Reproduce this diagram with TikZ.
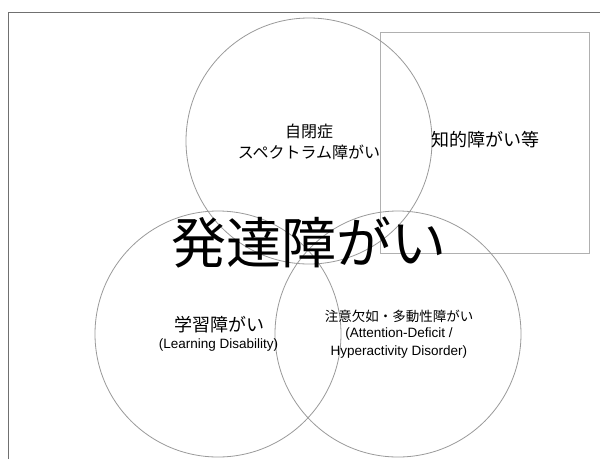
\documentclass[tikz,border=0pt]{standalone}
\usepackage{fontspec}
\setmainfont{Liberation Sans}
\newfontfamily\jpfont{Noto Sans CJK JP}
\definecolor{framegray}{HTML}{707070}
\definecolor{boxgray}{HTML}{B0B0B0}
\definecolor{circgray}{HTML}{9A9A9A}
\tikzset{
  setcircle/.style={circle, draw=circgray, line width=0.8pt, minimum size=246pt, inner sep=0pt},
  setbox/.style={rectangle, draw=boxgray, line width=1pt, inner sep=0pt},
  jplabel/.style={inner sep=0pt, align=center, text=black},
  enlabel/.style={inner sep=0pt, align=center, text=black}
}
\begin{document}
\begin{tikzpicture}[x=1pt,y=-1pt]
\useasboundingbox (0,0) rectangle (600,459);
\fill[white] (0,0) rectangle (600,459);
% outer frame (only top and left visible)
\draw[framegray, line width=1pt] (8,459) -- (8,12) -- (600,12);
% intellectual disability box
\node[setbox, minimum width=209pt, minimum height=220.5pt] (idbox) at (484.5,142.75) {};
% three circles
\node[setcircle] (asd) at (309,141) {};
\node[setcircle] (ld) at (218,334) {};
\node[setcircle] (adhd) at (398,334) {};
% labels
\node[jplabel, font=\jpfont\fontsize{16}{21}\selectfont] (asdlabel) at (309,141.5) {自閉症\\スペクトラム障がい};
\node[jplabel, font=\jpfont\fontsize{18}{22}\selectfont] (idlabel) at (485,140) {知的障がい等};
\node[jplabel, font=\jpfont\fontsize{55}{60}\selectfont] (title) at (308.5,243) {発達障がい};
\node[jplabel, font=\jpfont\fontsize{18}{22}\selectfont] (ldjp) at (219,325) {学習障がい};
\node[enlabel, font=\fontsize{13.5}{17.5}\selectfont] (lden) at (218.5,345) {(Learning Disability)};
\node[jplabel, font=\jpfont\fontsize{13.5}{17.5}\selectfont] (adhdjp) at (399,316.7) {注意欠如・多動性障がい};
\node[enlabel, font=\fontsize{13.5}{17.5}\selectfont] (adhden) at (399,343) {(Attention-Deficit /\\Hyperactivity Disorder)};
\end{tikzpicture}
\end{document}
